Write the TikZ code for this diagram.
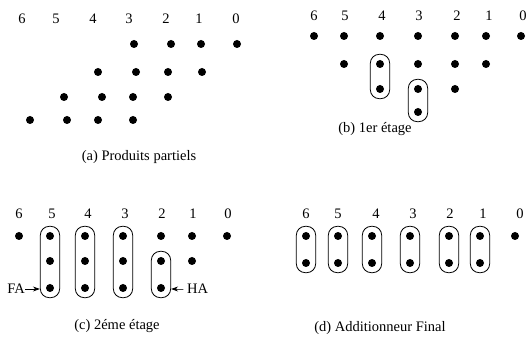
\documentclass[tikz,border=0pt]{standalone}
\usepackage{fontspec}
\setmainfont{Liberation Serif}
\usetikzlibrary{fit,arrows.meta}
\tikzset{
  dot/.style={circle,fill=black,inner sep=0pt,minimum size=8pt},
  bx/.style={draw,rounded corners=9pt,inner sep=5.5pt,line width=0.8pt},
  lbl/.style={inner sep=0pt,font=\fontsize{14.5}{17}\selectfont},
  captxt/.style={inner sep=0pt,font=\fontsize{14.5}{17}\selectfont},
  arr/.style={-{Stealth[length=7pt,width=5pt]},line width=0.9pt}
}
\begin{document}
\begin{tikzpicture}[x=1pt,y=-1pt]
\useasboundingbox (0,0) rectangle (531,342);
% ---------- (a)
\foreach \d/\x in {6/22,5/56,4/93,3/129,2/166,1/199,0/236}
  \node[lbl] (al\d) at (\x,19) {\d};
\foreach \i/\x in {1/134,2/171,3/201,4/237} \node[dot] (a1-\i) at (\x,44) {};
\foreach \i/\x in {1/98,2/136,3/168,4/202} \node[dot] (a2-\i) at (\x,72) {};
\foreach \i/\x in {1/64,2/102,3/133,4/168} \node[dot] (a3-\i) at (\x,97) {};
\foreach \i/\x in {1/30,2/67,3/98,4/133} \node[dot] (a4-\i) at (\x,120) {};
\node[captxt] (capa) at (139,157) {(a) Produits partiels};
% ---------- (b)
\foreach \d/\x in {6/314,5/345,4/382,3/419,2/457,1/489,0/523}
  \node[lbl] (bl\d) at (\x,16) {\d};
\foreach \i/\x in {6/314,5/344,4/380,3/418,2/455,1/486,0/521} \node[dot] (b1-\i) at (\x,36) {};
\foreach \i/\x in {5/344,4/380,3/418,2/455,1/486} \node[dot] (b2-\i) at (\x,64) {};
\foreach \i/\x in {4/380,3/418,2/455} \node[dot] (b3-\i) at (\x,89) {};
\node[dot] (b4-3) at (418,112) {};
\node[bx,fit=(b2-4)(b3-4)] (bbox4) {};
\node[bx,fit=(b3-3)(b4-3)] (bbox3) {};
\node[captxt] (capb) at (375,129) {(b) 1er étage};
% ---------- (c)
\foreach \d/\x in {6/19,5/52,4/88,3/125,2/162,1/193,0/228}
  \node[lbl] (cl\d) at (\x,214) {\d};
\foreach \i/\x in {6/19,5/50,4/85,3/123,2/161,1/192,0/227} \node[dot] (c1-\i) at (\x,236) {};
\foreach \i/\x in {5/50,4/85,3/123,2/161,1/192} \node[dot] (c2-\i) at (\x,261) {};
\foreach \i/\x in {5/50,4/85,3/123,2/161} \node[dot] (c3-\i) at (\x,288) {};
\node[bx,fit=(c1-5)(c3-5)] (cbox5) {};
\node[bx,fit=(c1-4)(c3-4)] (cbox4) {};
\node[bx,fit=(c1-3)(c3-3)] (cbox3) {};
\node[bx,fit=(c2-2)(c3-2)] (cbox2) {};
\node[lbl,anchor=east] (fa) at (25,289) {FA};
\draw[arr] (fa.east) -- (cbox5.west |- fa.east);
\node[lbl,anchor=west] (ha) at (176,289) {– HA};
\draw[arr] (ha.west) -- (cbox2.east |- ha.west);
\node[captxt] (capc) at (117,326) {(c) 2éme étage};
% ---------- (d)
\foreach \d/\x in {6/306,5/338,4/376,3/413,2/450,1/483,0/520}
  \node[lbl] (dl\d) at (\x,214) {\d};
\foreach \i/\x in {6/306,5/338,4/372,3/410,2/449,1/480} {
  \node[dot] (d1-\i) at (\x,236) {};
  \node[dot] (d2-\i) at (\x,263) {};
  \node[bx,fit=(d1-\i)(d2-\i)] (dbox\i) {};
}
\node[dot] (d1-0) at (515,236) {};
\node[captxt] (capd) at (380,328) {(d) Additionneur Final};
\end{tikzpicture}
\end{document}
